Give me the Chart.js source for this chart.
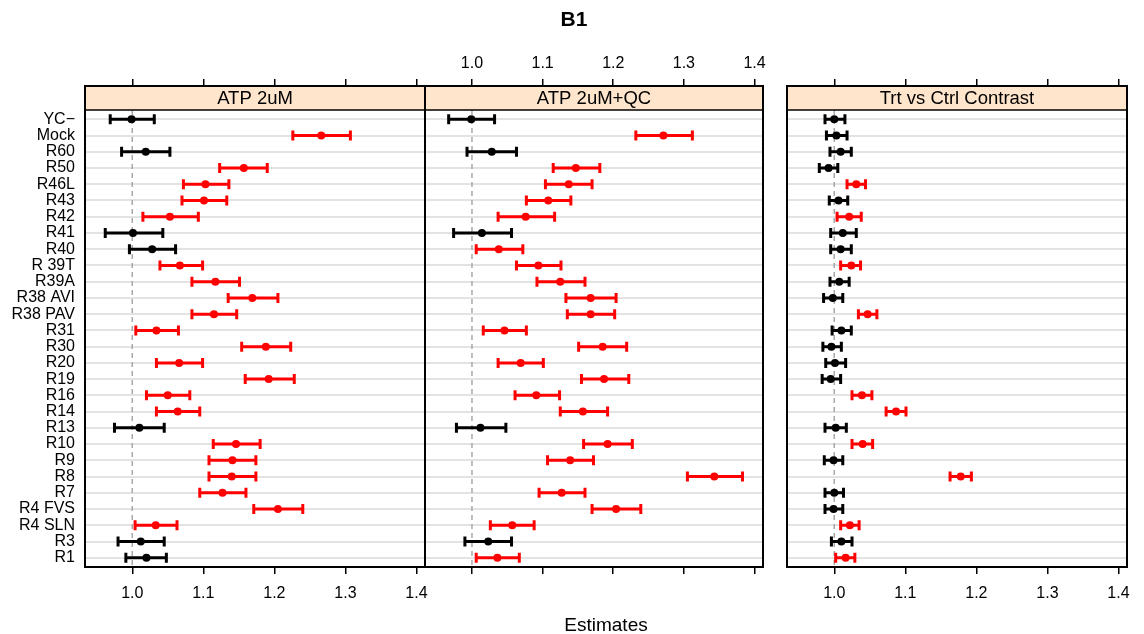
<!DOCTYPE html>
<html>
<head>
<meta charset="utf-8">
<script src="https://cdn.jsdelivr.net/npm/chart.js@4.4.0/dist/chart.umd.min.js"></script>
<style>
    body { margin: 0; background: #fff; }
    #wrap { position: relative; width: 1144px; height: 634px; font-family: "Liberation Sans", Arial, Helvetica, sans-serif; }
    #wrap canvas { position: absolute; left: 0; top: 0; }
    #title { position: absolute; left: 574px; top: 7px; transform: translateX(-50%); font-weight: bold; font-size: 21px; line-height: 24px; }
    #xlabel { position: absolute; left: 606px; top: 614px; transform: translateX(-50%); font-size: 19px; line-height: 22px; }
</style>
</head>
<body>
<div id="wrap">
    <canvas id="panel1" width="1144" height="634"></canvas>
    <canvas id="panel2" width="1144" height="634"></canvas>
    <canvas id="panel3" width="1144" height="634"></canvas>
    <div id="title">B1</div>
    <div id="xlabel">Estimates</div>
</div>
<script>
const categories = ['YC\u2212', 'Mock', 'R60', 'R50', 'R46L', 'R43', 'R42', 'R41', 'R40', 'R 39T',
    'R39A', 'R38 AVI', 'R38 PAV', 'R31', 'R30', 'R20', 'R19', 'R16', 'R14', 'R13',
    'R10', 'R9', 'R8', 'R7', 'R4 FVS', 'R4 SLN', 'R3', 'R1'];

const panelTitles = ['ATP 2uM', 'ATP 2uM+QC', 'Trt vs Ctrl Contrast'];

const xTickValues = [1.0, 1.1, 1.2, 1.3, 1.4];
const xTickLabels = ['1.0', '1.1', '1.2', '1.3', '1.4'];

// ATP 2uM
const est1 = [0.999, 1.266, 1.019, 1.157, 1.103, 1.101, 1.053, 1.001, 1.028, 1.067,
    1.117, 1.169, 1.115, 1.034, 1.188, 1.066, 1.192, 1.050, 1.064, 1.010,
    1.146, 1.141, 1.140, 1.127, 1.205, 1.033, 1.012, 1.020];
const lo1 = [0.969, 1.226, 0.985, 1.123, 1.072, 1.070, 1.015, 0.962, 0.996, 1.039,
    1.084, 1.135, 1.084, 1.005, 1.154, 1.034, 1.159, 1.020, 1.034, 0.975,
    1.114, 1.108, 1.108, 1.095, 1.171, 1.004, 0.980, 0.991];
const hi1 = [1.031, 1.307, 1.053, 1.190, 1.136, 1.133, 1.093, 1.043, 1.061, 1.099,
    1.151, 1.205, 1.147, 1.065, 1.223, 1.099, 1.228, 1.081, 1.095, 1.045,
    1.180, 1.174, 1.174, 1.160, 1.240, 1.063, 1.045, 1.048];

// ATP 2uM+QC
const est2 = [0.999, 1.271, 1.028, 1.147, 1.137, 1.108, 1.076, 1.014, 1.038, 1.094,
    1.125, 1.168, 1.168, 1.046, 1.185, 1.069, 1.187, 1.091, 1.157, 1.012,
    1.192, 1.139, 1.343, 1.127, 1.204, 1.057, 1.023, 1.036];
const lo2 = [0.967, 1.232, 0.993, 1.115, 1.104, 1.077, 1.037, 0.974, 1.006, 1.063,
    1.092, 1.133, 1.135, 1.016, 1.151, 1.037, 1.155, 1.061, 1.125, 0.978,
    1.158, 1.107, 1.305, 1.095, 1.170, 1.026, 0.990, 1.006];
const hi2 = [1.032, 1.312, 1.063, 1.181, 1.170, 1.140, 1.117, 1.056, 1.072, 1.126,
    1.160, 1.204, 1.202, 1.077, 1.219, 1.101, 1.222, 1.124, 1.192, 1.048,
    1.227, 1.172, 1.383, 1.160, 1.239, 1.088, 1.056, 1.067];

// Trt vs Ctrl Contrast
const est3 = [1.000, 1.003, 1.009, 0.992, 1.031, 1.006, 1.021, 1.012, 1.009, 1.024,
    1.007, 0.998, 1.047, 1.010, 0.996, 1.001, 0.995, 1.039, 1.087, 1.002,
    1.040, 0.999, 1.178, 1.000, 0.999, 1.022, 1.010, 1.016];
const lo3 = [0.987, 0.989, 0.994, 0.979, 1.018, 0.993, 1.004, 0.995, 0.995, 1.009,
    0.994, 0.985, 1.034, 0.997, 0.984, 0.988, 0.983, 1.025, 1.073, 0.987,
    1.025, 0.986, 1.163, 0.987, 0.987, 1.009, 0.996, 1.002];
const hi3 = [1.015, 1.018, 1.024, 1.005, 1.044, 1.019, 1.038, 1.031, 1.024, 1.037,
    1.021, 1.012, 1.060, 1.024, 1.010, 1.016, 1.009, 1.053, 1.101, 1.017,
    1.054, 1.012, 1.193, 1.013, 1.012, 1.035, 1.025, 1.029];

const X_MIN = 0.9335;
const X_MAX = 1.412;
const Y_MIN = -2.05;
const Y_MAX = 27.57;
const STRIP_H = 24;
const FONT = '"Liberation Sans", Arial, Helvetica, sans-serif';

Chart.defaults.font.family = FONT;
Chart.defaults.color = '#000';

function barColor(lo, hi) {
    return (lo > 1 || hi < 1) ? '#ff0000' : '#000000';
}

// draws the reference line, the error bars, the strip and the panel box
const panelPlugin = {
    id: 'panelPlugin',
    beforeDatasetsDraw(chart, args, opts) {
        const ctx = chart.ctx;
        const area = chart.chartArea;
        const xs = chart.scales.x;
        const ys = chart.scales.y;

        ctx.save();
        ctx.strokeStyle = '#a8a8a8';
        ctx.lineWidth = 1.5;
        ctx.setLineDash([5, 4]);
        const x1 = xs.getPixelForValue(1);
        ctx.beginPath();
        ctx.moveTo(x1, area.top + STRIP_H);
        ctx.lineTo(x1, area.bottom);
        ctx.stroke();
        ctx.setLineDash([]);

        ctx.lineWidth = 3;
        opts.lo.forEach((lo, i) => {
            const hi = opts.hi[i];
            const xa = xs.getPixelForValue(lo);
            const xb = xs.getPixelForValue(hi);
            const y = ys.getPixelForValue(i);
            ctx.strokeStyle = barColor(lo, hi);
            ctx.beginPath();
            ctx.moveTo(xa, y);
            ctx.lineTo(xb, y);
            ctx.moveTo(xa, y - 5);
            ctx.lineTo(xa, y + 5);
            ctx.moveTo(xb, y - 5);
            ctx.lineTo(xb, y + 5);
            ctx.stroke();
        });
        ctx.restore();
    },
    afterDraw(chart, args, opts) {
        const ctx = chart.ctx;
        const area = chart.chartArea;
        ctx.save();
        ctx.fillStyle = '#ffe5cc';
        ctx.fillRect(area.left, area.top, area.right - area.left, STRIP_H);
        ctx.strokeStyle = '#000';
        ctx.lineWidth = 1.5;
        ctx.beginPath();
        ctx.moveTo(area.left, area.top + STRIP_H);
        ctx.lineTo(area.right, area.top + STRIP_H);
        ctx.stroke();
        ctx.lineWidth = 2;
        ctx.strokeRect(area.left, area.top, area.right - area.left, area.bottom - area.top);

        ctx.fillStyle = '#000';
        ctx.font = '18.5px ' + FONT;
        ctx.textAlign = 'center';
        ctx.textBaseline = 'middle';
        ctx.fillText(opts.title, (area.left + area.right) / 2, area.top + STRIP_H / 2 + 1);
        ctx.restore();
    }
};

function xTicks(scale) {
    scale.ticks = xTickValues.map(v => ({ value: v }));
}

function xAxis(position, showLabels, height, padding) {
    return {
        type: 'linear',
        position: position,
        min: X_MIN,
        max: X_MAX,
        afterBuildTicks: xTicks,
        afterFit: (scale) => { scale.height = height; },
        border: { display: false },
        grid: { drawOnChartArea: false, drawTicks: true, tickLength: 7, color: '#000', lineWidth: 1.5 },
        ticks: {
            display: showLabels,
            autoSkip: false,
            maxRotation: 0,
            padding: padding,
            font: { size: 16 },
            color: '#000',
            callback: (value) => xTickLabels[xTickValues.indexOf(value)]
        }
    };
}

function makePanel(canvasId, title, est, lo, hi, layout) {
    const ctx = document.getElementById(canvasId).getContext('2d');
    const colors = lo.map((l, i) => barColor(l, hi[i]));

    return new Chart(ctx, {
        type: 'scatter',
        data: {
            datasets: [{
                data: est.map((v, i) => ({ x: v, y: i })),
                pointRadius: 4,
                pointBackgroundColor: colors,
                pointBorderColor: colors,
                pointBorderWidth: 0
            }]
        },
        options: {
            responsive: false,
            animation: false,
            layout: { padding: layout.padding },
            plugins: {
                legend: { display: false },
                tooltip: { enabled: false },
                panelPlugin: { title: title, lo: lo, hi: hi }
            },
            scales: {
                x: xAxis('bottom', layout.bottomLabels, layout.bottomH, 10),
                x2: xAxis('top', layout.topLabels, layout.topH, 6),
                y: {
                    type: 'linear',
                    reverse: true,
                    min: Y_MIN,
                    max: Y_MAX,
                    afterBuildTicks: (scale) => {
                        scale.ticks = categories.map((c, i) => ({ value: i }));
                    },
                    afterFit: (scale) => { scale.width = layout.yWidth; },
                    border: { display: false },
                    grid: { color: '#e3e3e3', lineWidth: 2, drawTicks: false },
                    ticks: {
                        display: layout.yLabels,
                        autoSkip: false,
                        padding: 10,
                        font: { size: 16 },
                        color: '#000',
                        callback: (value) => categories[value]
                    }
                }
            }
        },
        plugins: [panelPlugin]
    });
}

makePanel('panel1', panelTitles[0], est1, lo1, hi1, {
    padding: { left: 0, right: 719, top: 79, bottom: 27 },
    yWidth: 85, yLabels: true, topH: 7, topLabels: false, bottomH: 40, bottomLabels: true
});

makePanel('panel2', panelTitles[1], est2, lo2, hi2, {
    padding: { left: 425, right: 381, top: 49, bottom: 60 },
    yWidth: 0, yLabels: false, topH: 37, topLabels: true, bottomH: 7, bottomLabels: false
});

makePanel('panel3', panelTitles[2], est3, lo3, hi3, {
    padding: { left: 787, right: 17, top: 79, bottom: 27 },
    yWidth: 0, yLabels: false, topH: 7, topLabels: false, bottomH: 40, bottomLabels: true
});
</script>
</body>
</html>
